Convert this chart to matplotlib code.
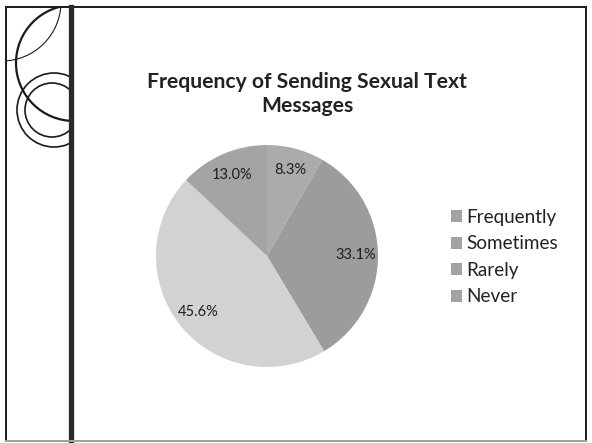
import matplotlib.pyplot as plt
from matplotlib.patches import Rectangle, Circle, Patch
import numpy as np

W, H = 592, 443

labels = ["Frequently", "Sometimes", "Rarely", "Never"]
shares = [8.3, 33.1, 45.6, 13.0]
slice_colors = ["#ababab", "#9c9c9c", "#d2d2d2", "#a4a4a4"]
legend_gray = "#a3a3a3"
title = "Frequency of Sending Sexual Text\nMessages"

plt.rcParams['font.family'] = ['Lato', 'DejaVu Sans']

fig = plt.figure(figsize=(W / 100, H / 100), dpi=100)
fig.patch.set_facecolor("white")

# slide frame and left decoration, in pixel coordinates
deco = fig.add_axes([0, 0, 1, 1])
deco.set_xlim(0, W)
deco.set_ylim(H, 0)
deco.axis("off")

strip = Rectangle((6, 7), 65, H - 12, transform=deco.transData)
for cx, cy, r, lw in [(74, 63, 58, 1.6), (2, 2, 59, 0.8), (54, 110, 37, 1.2), (52, 110, 27, 1.2)]:
    c = Circle((cx, cy), r, fill=False, edgecolor="#1a1a1a", linewidth=lw)
    deco.add_patch(c)
    c.set_clip_path(strip)

deco.add_patch(Rectangle((6, 7), W - 12, H - 9, fill=False, edgecolor="#1a1a1a", linewidth=1.4))
deco.plot([71, 71], [7, H], color="#2a2a2a", linewidth=3.8)
deco.plot([6, W - 6], [441, 441], color="#bbbbbb", linewidth=1.2)

deco.text(307, 94, title, ha="center", va="center", fontsize=15.2, fontweight="bold",
          color="#222222", linespacing=1.3)

# pie
cx, cy, r = 267, 256, 111
ax = fig.add_axes([(cx - r) / W, (H - cy - r) / H, 2 * r / W, 2 * r / H])
wedges, _, autotexts = ax.pie(shares, colors=slice_colors, startangle=90, counterclock=False,
                              autopct="%.1f%%", pctdistance=0.8,
                              wedgeprops=dict(linewidth=0))
for t in autotexts:
    t.set_fontsize(10.5)
    t.set_color("#1e1e1e")
ax.set_xlim(-1, 1)
ax.set_ylim(-1, 1)
ax.set_aspect("equal")
ax.axis("off")

handles = [Patch(facecolor=legend_gray, edgecolor="none") for _ in labels]
fig.legend(handles, labels, loc="upper left", bbox_to_anchor=(434 / W, 1 - 192 / H),
           frameon=False, fontsize=13.6, handlelength=0.6, handleheight=0.6,
           handletextpad=0.2, labelspacing=0.5, labelcolor="#222222")

fig.savefig("out.png", dpi=100)
